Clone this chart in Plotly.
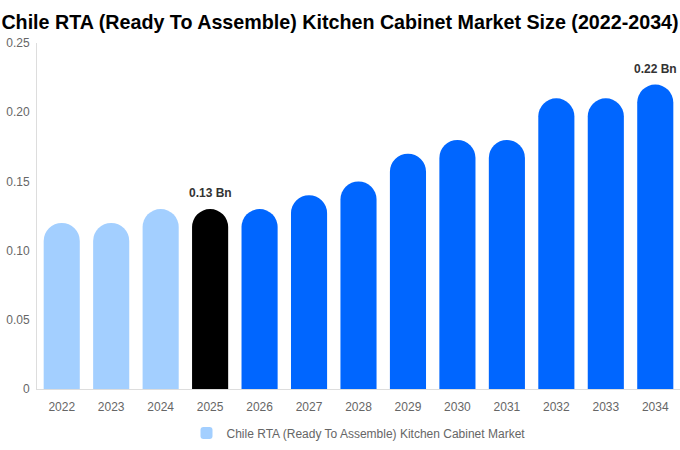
import plotly.graph_objects as go

# Market size values (USD billions)
years = ["2022", "2023", "2024", "2025", "2026", "2027", "2028",
         "2029", "2030", "2031", "2032", "2033", "2034"]
market_size = [0.12, 0.12, 0.13, 0.13, 0.13, 0.14, 0.15,
               0.17, 0.18, 0.18, 0.21, 0.21, 0.22]
bar_colors = ["#a3cfff", "#a3cfff", "#a3cfff", "#000000",
              "#0066ff", "#0066ff", "#0066ff", "#0066ff", "#0066ff",
              "#0066ff", "#0066ff", "#0066ff", "#0066ff"]
labelled_years = ["2025", "2034"]

y_ticks = [0, 0.05, 0.10, 0.15, 0.20, 0.25]
y_ticktext = ["0", "0.05", "0.10", "0.15", "0.20", "0.25"]

fig = go.Figure()

fig.add_trace(go.Bar(
    x=years,
    y=market_size,
    name="Chile RTA (Ready To Assemble) Kitchen Cabinet Market",
    marker=dict(color=bar_colors, cornerradius=18, line=dict(width=0)),
    showlegend=True,
))

# Value labels above selected bars (category index, since "2025" would read as a number)
for i, (yr, val) in enumerate(zip(years, market_size)):
    if yr in labelled_years:
        fig.add_annotation(
            x=i, y=val, text=f"<b>{val:.2f} Bn</b>",
            showarrow=False, yshift=16,
            font=dict(size=12, color="#333333"),
        )

fig.update_layout(
    title=dict(
        text="<b>Chile RTA (Ready To Assemble) Kitchen Cabinet Market Size (2022-2034)</b>",
        x=0.5, xanchor="center", y=0.967, yanchor="top",
        font=dict(size=19.7, color="#000000"),
    ),
    width=680, height=450,
    margin=dict(l=37, r=0, t=43, b=61, autoexpand=False),
    plot_bgcolor="white",
    paper_bgcolor="white",
    font=dict(family="Liberation Sans, Arial, sans-serif", color="#666666", size=12),
    bargap=0.27,
    xaxis=dict(
        type="category",
        range=[-0.5, 12.5],
        showline=True, linecolor="#dddddd", linewidth=1,
        showgrid=False, ticks="", ticklabelstandoff=7,
        tickfont=dict(size=12, color="#666666"),
    ),
    yaxis=dict(
        range=[0, 0.25],
        tickvals=y_ticks, ticktext=y_ticktext,
        showline=True, linecolor="#dddddd", linewidth=1,
        showgrid=False, zeroline=False, ticks="", ticklabelstandoff=4,
        tickfont=dict(size=12, color="#666666"),
    ),
    legend=dict(
        orientation="h", x=0.5, xanchor="center", y=-0.085, yanchor="top",
        font=dict(size=12, color="#666666"),
    ),
)

# drop the page's default body margin so the chart sits at the window's corner
fig.write_html("out.html",
               config={"displayModeBar": False},
               post_script="document.body.style.margin='0';document.body.style.overflow='hidden';")
